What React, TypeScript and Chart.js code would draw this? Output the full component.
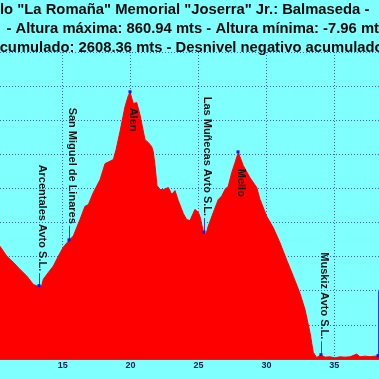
import React, { useEffect, useRef } from "react";
import { Chart, registerables } from "chart.js";

Chart.register(...registerables);

// Profile: distance (km) and altitude (m)
const distanceKm = [
  10.38, 10.88, 11.36, 11.86, 12.35, 12.84, 13.2, 13.28, 13.45, 13.57, 13.94, 14.31, 14.68, 15.04,
  15.46, 15.78, 16.27, 16.64, 16.89, 17.25, 17.75, 18.12, 18.48, 18.73, 18.93, 19.22, 19.59, 19.83,
  19.96, 20.2, 20.45, 20.69, 20.91, 21.06, 21.3, 21.55, 21.67, 21.8, 21.94, 22.17, 22.41, 22.78,
  23.03, 23.27, 23.51, 23.88, 24.13, 24.37, 24.74, 24.99, 25.11, 25.35, 25.43, 25.55, 25.72, 26.09,
  26.46, 26.71, 26.95, 27.19, 27.45, 27.69, 27.93, 28.3, 28.79, 29.29, 29.53, 30.02, 30.51, 31.0,
  31.5, 31.98, 32.47, 32.84, 33.21, 33.45, 33.7, 34.0, 34.32, 34.68, 35.05, 35.42, 35.79, 36.16,
  36.65, 36.89, 37.26, 37.63, 38.0, 38.22, 38.4,
];
const altitudeM = [
  331, 302, 284, 263, 244, 219, 213, 214, 215, 234, 254, 273, 302, 328,
  348, 361, 409, 448, 453, 488, 526, 573, 580, 585, 614, 667, 740, 772,
  782, 749, 752, 716, 673, 643, 635, 623, 608, 567, 509, 497, 497, 503,
  483, 494, 465, 427, 409, 406, 439, 430, 418, 375, 371, 366, 390, 430,
  468, 478, 497, 507, 547, 576, 606, 567, 532, 503, 468, 419, 385, 341,
  290, 243, 193, 146, 78, 20, 5, 12, 6, 7, 4, 7, 6, 7,
  15, 7, 9, 7, 9, 9, 8,
];

// Waypoints
const wpNames = [
  "Arcentales Avto S.L.",
  "San Miguel de Linares",
  "Alen",
  "Las Muñecas Avto S.L.",
  "Mello",
  "Muskiz Avto S.L.",
  "",
];
const wpKm = [13.28, 15.46, 19.96, 25.43, 27.93, 34.0, 38.22];
const wpAlt = [214, 348, 782, 371, 606, 12, 9];
// altitude at which each rotated label starts (placement)
const wpLabelTop = [570, 737, 737, 769, 558, 313, 205];

const xTickStep = 5;
const xMin = 10.383;
const xMax = 38.292;
const yMin = 0;
const yMax = 900;
const yStep = 100;

const titleLines = [
  'lo "La Romaña" Memorial "Joserra" Jr.: Balmaseda -',
  "- Altura máxima: 860.94 mts - Altura mínima: -7.96 mts",
  "acumulado: 2608.36 mts - Desnivel negativo acumulado:",
];
const titleX = [0, 6.5, -8.6];
const titleBaseline = [14, 33, 52];

const FONT = '"Liberation Sans", Arial, sans-serif';

const overlayPlugin = {
  id: "overlay",
  afterDraw(chart: any) {
    const ctx = chart.ctx as CanvasRenderingContext2D;
    const xs = chart.scales.x;
    const ys = chart.scales.y;
    ctx.save();
    // titles
    ctx.fillStyle = "#0a0a0a";
    ctx.font = `bold 14.8px ${FONT}`;
    ctx.textAlign = "left";
    ctx.textBaseline = "alphabetic";
    titleLines.forEach((t, i) => ctx.fillText(t, titleX[i], titleBaseline[i]));

    // waypoints
    ctx.font = `bold 11px ${FONT}`;
    wpNames.forEach((name, i) => {
      const px = Math.round(xs.getPixelForValue(wpKm[i])) + 0.5;
      const py = ys.getPixelForValue(wpAlt[i]);
      const top = ys.getPixelForValue(wpLabelTop[i]);
      const w = name ? ctx.measureText(name).width : 0;
      const end = top + w + 2;
      if (end < py) {
        ctx.strokeStyle = "#3a3ad0";
        ctx.lineWidth = 1;
        ctx.beginPath();
        ctx.moveTo(px, end);
        ctx.lineTo(px, py);
        ctx.stroke();
      }
      ctx.fillStyle = "#1414e0";
      ctx.fillRect(px - 2, py - 2, 3, 3);
      if (name) {
        ctx.save();
        ctx.translate(px - 1, top);
        ctx.rotate(Math.PI / 2);
        ctx.fillStyle = "#151515";
        ctx.fillText(name, 0, 0);
        ctx.restore();
      }
    });
    ctx.restore();
  },
};

export default function App() {
  const ref = useRef<HTMLCanvasElement | null>(null);
  useEffect(() => {
    if (!ref.current) return;
    const points = distanceKm.map((d, i) => ({ x: d, y: altitudeM[i] }));
    const gridColor = "rgba(20,20,170,0.65)";
    const chart = new Chart(ref.current, {
      type: "line",
      data: {
        datasets: [
          {
            data: points,
            fill: "start",
            backgroundColor: "#ff0000",
            borderColor: "#ff0000",
            borderWidth: 1,
            pointRadius: 0,
            tension: 0,
          },
        ],
      },
      options: {
        animation: false,
        responsive: false,
        maintainAspectRatio: false,
        layout: { padding: { top: 52, bottom: 7, left: 0, right: 0 } },
        plugins: { legend: { display: false }, tooltip: { enabled: false }, title: { display: false } },
        scales: {
          x: {
            type: "linear",
            min: xMin,
            max: xMax,
            z: 1,
            grid: { color: gridColor, drawTicks: false, lineWidth: 1 } as any,
            border: { display: true, color: "#4a4ab0", width: 1, dash: [1, 2] } as any,
            ticks: {
              stepSize: xTickStep,
              includeBounds: false,
              padding: 1,
              color: "#1c1c50",
              font: { family: FONT, size: 9, weight: "bold" },
              maxRotation: 0,
            } as any,
          },
          y: {
            type: "linear",
            min: yMin,
            max: yMax,
            z: 1,
            grid: { color: gridColor, drawTicks: false, lineWidth: 1 } as any,
            border: { display: false, dash: [1, 2] } as any,
            ticks: { stepSize: yStep, display: false, padding: 0 },
          },
        },
      },
      plugins: [overlayPlugin],
    });
    return () => chart.destroy();
  }, []);
  return (
    <div style={{ position: "fixed", left: 0, top: 0, width: 379, height: 379, background: "#80ffff" }}>
      <canvas ref={ref} width={379} height={379} style={{ display: "block", width: 379, height: 379 }} />
    </div>
  );
}
